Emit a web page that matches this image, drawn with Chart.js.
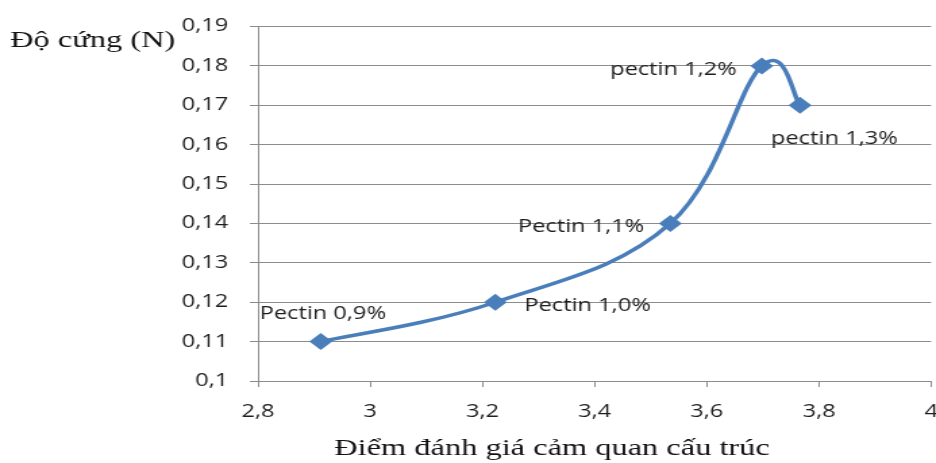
<!DOCTYPE html>
<html>
<head>
<meta charset="utf-8">
<script src="https://cdn.jsdelivr.net/npm/chart.js@4/dist/chart.umd.min.js"></script>
<style>
  html, body { margin: 0; padding: 0; background: #fff; overflow: hidden; width: 936px; height: 463px; }
  #wrap { width: 698px; height: 463px; transform: scaleX(1.3506); transform-origin: 0 0; }
</style>
</head>
<body>
<div id="wrap"><canvas id="c" width="698" height="463"></canvas></div>
<script>
// Sensory texture score vs. hardness for each pectin level
const scores = [2.912, 3.223, 3.535, 3.698, 3.766];
const hardness = [0.11, 0.12, 0.14, 0.18, 0.17];
const pointLabels = ['Pectin 0,9%', 'Pectin 1,0%', 'Pectin 1,1%', 'pectin 1,2%', 'pectin 1,3%'];
const xTicks = [2.8, 3, 3.2, 3.4, 3.6, 3.8, 4];
const yTicks = [0.1, 0.11, 0.12, 0.13, 0.14, 0.15, 0.16, 0.17, 0.18, 0.19];

const xTitle = 'Điểm đánh giá cảm quan cấu trúc';
const yTitle = 'Độ cứng (N)';

// horizontal squeeze applied by the wrapper transform
const SX = 1.3506;

// label placement around each point (screen pixels)
const labelPlacement = [
  { align: 'center', dx: 2,   dy: -23 },
  { align: 'left',   dx: 29,  dy: 9 },
  { align: 'right',  dx: -26, dy: 9 },
  { align: 'right',  dx: -25, dy: 9 },
  { align: 'left',   dx: -29, dy: 39 }
];

const LABEL_FONT = '17.5px "Open Sans"';
const GRID = '#8c8c8c';
const TEXT = '#1e1e1e';
const SMOOTH = 0.19; // Catmull-Rom style control-point factor

const fmt = v => parseFloat(v.toFixed(2)).toString().replace('.', ',');

// Spreadsheet-style smoothing: control points from neighbouring points
const smoothLine = {
  id: 'smoothLine',
  beforeDatasetsDraw(chart) {
    const meta = chart.getDatasetMeta(0);
    const pts = meta.data;
    const n = pts.length;
    for (let i = 0; i < n; i++) {
      const a = pts[Math.max(i - 1, 0)];
      const b = pts[i];
      const c = pts[Math.min(i + 1, n - 1)];
      const dx = (c.x - a.x) * SMOOTH;
      const dy = (c.y - a.y) * SMOOTH;
      b.cp1x = b.x - dx; b.cp1y = b.y - dy;
      b.cp2x = b.x + dx; b.cp2y = b.y + dy;
    }
    meta.dataset._pointsUpdated = true;
  }
};

const annotate = {
  id: 'annotate',
  afterDatasetsDraw(chart) {
    const ctx = chart.ctx;
    const meta = chart.getDatasetMeta(0);
    ctx.save();
    ctx.fillStyle = TEXT;
    ctx.font = LABEL_FONT;
    ctx.textBaseline = 'alphabetic';
    meta.data.forEach((pt, i) => {
      const p = labelPlacement[i];
      ctx.textAlign = p.align;
      ctx.fillText(pointLabels[i], pt.x + p.dx / SX, pt.y + p.dy);
    });
    // axis titles
    ctx.fillStyle = '#111';
    ctx.font = '24px "Liberation Serif"';
    ctx.textAlign = 'left';
    ctx.fillText(yTitle, 10 / SX, 47);
    ctx.textAlign = 'center';
    ctx.fillText(xTitle, 552 / SX, 455);
    ctx.restore();
  }
};

new Chart(document.getElementById('c'), {
  type: 'scatter',
  data: {
    datasets: [{
      data: scores.map((x, i) => ({ x, y: hardness[i] })),
      showLine: true,
      tension: 0.4,
      borderColor: '#4a7ebb',
      backgroundColor: '#4a7ebb',
      borderWidth: 3.5,
      pointStyle: 'rectRot',
      pointRadius: 8.5,
      pointHoverRadius: 8.5,
      pointBorderWidth: 0
    }]
  },
  options: {
    responsive: false,
    animation: false,
    devicePixelRatio: 1,
    layout: { padding: { top: 22, right: 0, left: 0, bottom: 0 } },
    plugins: { legend: { display: false }, tooltip: { enabled: false } },
    scales: {
      x: {
        type: 'linear',
        min: 2.8, max: 4,
        afterBuildTicks: s => { s.ticks = xTicks.map(v => ({ value: v })); },
        afterFit: s => { s.height = 82; s.paddingRight = 0; },
        ticks: { font: { family: 'Open Sans', size: 17.5 }, color: TEXT, padding: 15, callback: v => fmt(v), maxRotation: 0, autoSkip: false },
        grid: { drawOnChartArea: false, drawTicks: true, tickLength: 6, color: GRID },
        border: { color: GRID, width: 1 }
      },
      y: {
        type: 'linear',
        min: 0.1, max: 0.19,
        afterBuildTicks: s => { s.ticks = yTicks.map(v => ({ value: v })); },
        afterFit: s => { s.width = 191; },
        ticks: { font: { family: 'Open Sans', size: 17.5 }, color: TEXT, padding: 16, callback: v => fmt(v), autoSkip: false },
        grid: { color: GRID, tickLength: 6, lineWidth: 1 },
        border: { color: GRID, width: 1 }
      }
    }
  },
  plugins: [smoothLine, annotate]
});
</script>
</body>
</html>
